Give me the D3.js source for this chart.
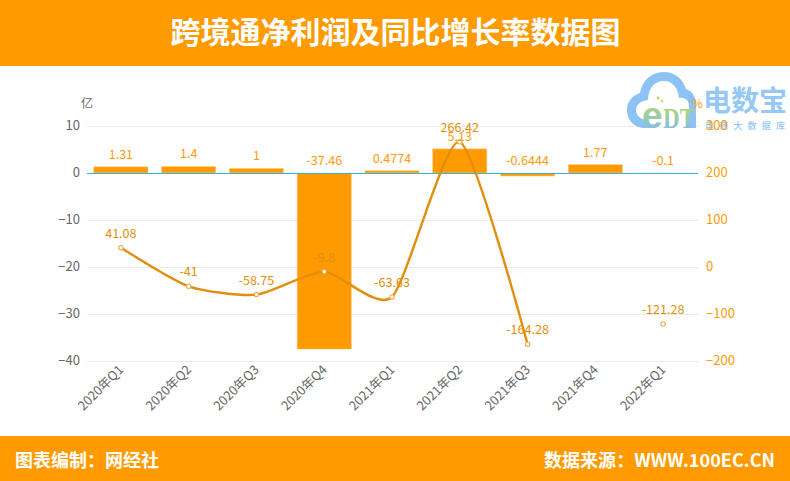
<!DOCTYPE html>
<html><head><meta charset="utf-8">
<script src="https://cdn.jsdelivr.net/npm/d3@7/dist/d3.min.js"></script>
<style>html,body{margin:0;padding:0;background:#fff}svg{display:block}
text{font-family:"Noto Sans CJK SC","Noto Sans",sans-serif}</style></head><body>
<svg id="c" width="790" height="481"></svg>
<script>
const categories=["2020年Q1","2020年Q2","2020年Q3","2020年Q4","2021年Q1","2021年Q2","2021年Q3","2021年Q4","2022年Q1"];
const profit=[1.31,1.4,1,-37.46,0.4774,5.13,-0.6444,1.77,-0.1];
const growth=[41.08,-41,-58.75,-9.8,-63.63,266.42,-164.28,null,-121.28];
const leftTicks=[10,0,-10,-20,-30,-40];
const rightTicks=[300,200,100,0,-100,-200];
const title="跨境通净利润及同比增长率数据图";
const footLeft="图表编制：网经社";
const footRight="数据来源：WWW.100EC.CN";
const orange="#FF9A00",lineCol="#E38E0A",barLabel="#FF9A0A",grey="#666";

const svg=d3.select("#c");
svg.append("rect").attr("width",790).attr("height",66).attr("fill",orange);
svg.append("rect").attr("y",436).attr("width",790).attr("height",45).attr("fill",orange);
svg.append("text").attr("x",395.5).attr("y",43).attr("text-anchor","middle").attr("fill","#fff")
  .attr("font-size",30).attr("font-weight",700).text(title);
svg.append("text").attr("x",15).attr("y",467).attr("fill","#fff").attr("font-size",18).attr("font-weight",700).text(footLeft);
svg.append("text").attr("x",775).attr("y",467).attr("text-anchor","end").attr("fill","#fff").attr("font-size",18).attr("font-weight",700).attr("textLength",231).text(footRight);

const x=d3.scaleBand().domain(categories).range([87,697]).paddingInner(0.2).paddingOuter(0.1);
const cx=d=>x(d)+x.bandwidth()/2;
const yL=d3.scaleLinear().domain([-40,10]).range([361,126]);
const yR=d3.scaleLinear().domain([-200,300]).range([361,126]);

// grid
svg.append("g").selectAll("line").data(leftTicks.filter(d=>d!==0)).join("line")
  .attr("x1",87).attr("x2",698).attr("y1",d=>yL(d)+.5).attr("y2",d=>yL(d)+.5).attr("stroke","#ebebeb");

// logo (drawn under the chart marks)
const logo=svg.append("g");
const blue="#8CC3F4";
logo.append("path").attr("fill",blue).attr("d","M643 128 C633 127 627 119 627 110 C627 101 633 95 640 93 C642 81 651 72 664 72 C675 72 683 79 686 89 C692 91 696 97 696 104 L696 128 Z");
logo.append("path").attr("fill","#fff").attr("d","M646 120 C640 119 636 115 636 110 C636 105 640 101 648 100 C648 88 655 81 664 81 C672 81 678 87 679 98 C686 97 689 101 689 106 L689 128 L652 128 Z");
const grad=svg.append("defs").append("linearGradient").attr("id","lg").attr("x1",0).attr("y1",0).attr("x2",0).attr("y2",1);
grad.append("stop").attr("offset","15%").attr("stop-color","#B5D86A");
grad.append("stop").attr("offset","90%").attr("stop-color","#7FBFEA");
logo.append("text").attr("x",642).attr("y",128).attr("font-size",37).attr("font-weight",700).attr("fill","url(#lg)").style("font-family",'"Liberation Sans"').text("e");
logo.append("circle").attr("cx",658).attr("cy",98).attr("r",1.5).attr("fill","#B5D86A");
logo.append("circle").attr("cx",662).attr("cy",101).attr("r",1.2).attr("fill","#B5D86A");
logo.append("text").attr("x",663).attr("y",128).attr("font-size",30).attr("font-weight",700).attr("fill","url(#lg)").style("font-family",'"Liberation Serif"').attr("textLength",32).attr("lengthAdjust","spacingAndGlyphs").text("DT");
logo.append("text").attr("x",703).attr("y",111).attr("font-size",28).attr("font-weight",700).attr("fill","#95C8F6").attr("textLength",84).text("电数宝");
logo.append("text").attr("x",705).attr("y",129).attr("font-size",9).attr("fill","#95C8F6").attr("font-weight",500).attr("textLength",80).text("电商大数据库");

// bars
svg.append("g").selectAll("rect").data(profit).join("rect")
  .attr("x",(d,i)=>x(categories[i])).attr("width",x.bandwidth())
  .attr("y",d=>yL(Math.max(d,0))).attr("height",d=>Math.abs(yL(d)-yL(0)))
  .attr("fill",orange).attr("stroke","#FFD08A").attr("stroke-width",.6);
// zero axis line
svg.append("line").attr("x1",87).attr("x2",698).attr("y1",yL(0)+.5).attr("y2",yL(0)+.5).attr("stroke","#2FB4E0").attr("stroke-width",1);

// axes
const axL=d3.axisLeft(yL).tickValues(leftTicks).tickSize(0).tickPadding(0);
const gL=svg.append("g").attr("transform","translate(80,-1)").call(axL);
const axR=d3.axisRight(yR).tickValues(rightTicks).tickSize(0).tickPadding(0);
const gR=svg.append("g").attr("transform","translate(706,-1)").call(axR);
gL.select(".domain").remove();gR.select(".domain").remove();
gL.selectAll("text").attr("font-size",13).attr("fill",grey).style("font-family",'"Noto Sans CJK SC"');
gR.selectAll("text").attr("font-size",13).attr("fill",barLabel).style("font-family",'"Noto Sans CJK SC"');
svg.append("text").attr("x",87).attr("y",108).attr("text-anchor","middle").attr("font-size",12).attr("fill",grey).text("亿");
svg.append("text").attr("x",692).attr("y",108).attr("font-size",11.5).attr("fill",barLabel).text("%");

// x labels
svg.append("g").selectAll("text").data(categories).join("text")
  .attr("transform",d=>`translate(${cx(d)+1},368) rotate(-45)`)
  .attr("text-anchor","end").attr("dominant-baseline","middle")
  .attr("font-size",12.8).attr("fill",grey).text(d=>d);

// line
const pts=categories.map((c,i)=>({c,v:growth[i]}));
const lineGen=d3.line().defined(d=>d.v!==null).x(d=>cx(d.c)).y(d=>yR(d.v)).curve(d3.curveCardinal.tension(0.35));
svg.append("path").attr("d",lineGen(pts)).attr("fill","none").attr("stroke",lineCol).attr("stroke-width",2.4);
svg.append("g").selectAll("circle").data(pts.filter(d=>d.v!==null)).join("circle")
  .attr("cx",d=>cx(d.c)).attr("cy",d=>yR(d.v)).attr("r",2.2)
  .attr("fill","#fff").attr("stroke","#EDA94A").attr("stroke-width",1.1);

// labels
svg.append("g").selectAll("text").data(profit).join("text")
  .attr("x",(d,i)=>cx(categories[i])).attr("y",d=>yL(Math.max(d,0))-8)
  .attr("text-anchor","middle").attr("font-size",12.6).attr("fill",barLabel).text(d=>d);
svg.append("g").selectAll("text").data(pts.filter(d=>d.v!==null)).join("text")
  .attr("x",d=>cx(d.c)).attr("y",d=>yR(d.v)-10)
  .attr("text-anchor","middle").attr("font-size",12.6).attr("fill",lineCol).text(d=>d.v);
</script></body></html>
